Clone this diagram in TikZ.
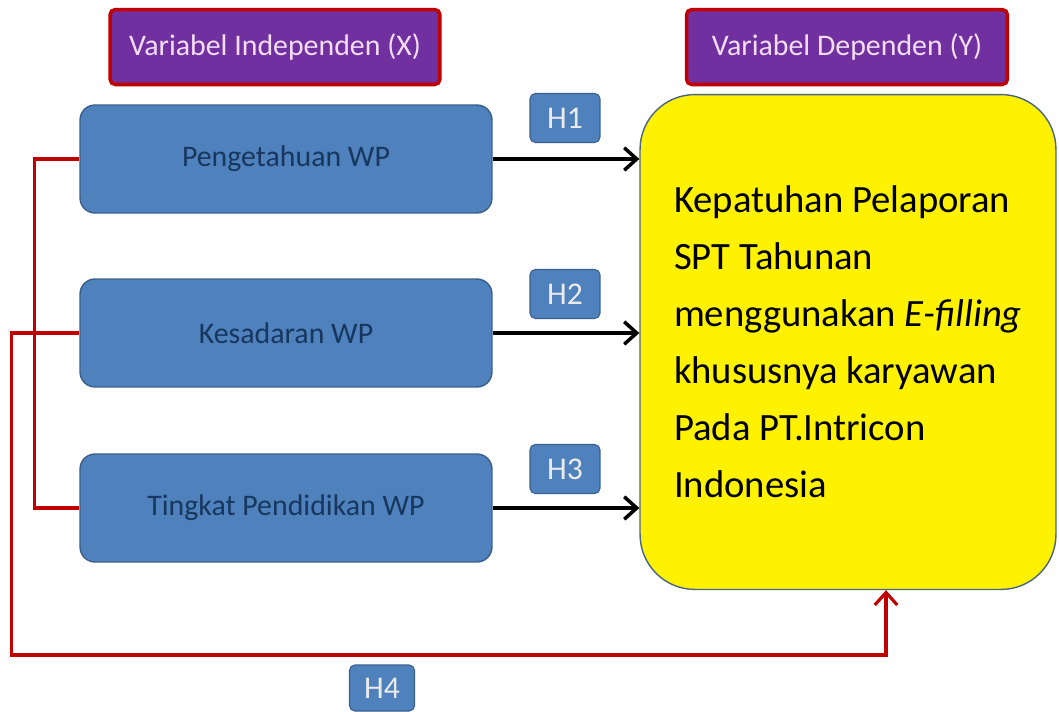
\documentclass[tikz,border=0pt]{standalone}
\usepackage{fontspec}
\setmainfont{Carlito}
\usetikzlibrary{arrows.meta}
\definecolor{boxblue}{HTML}{4F81BD}
\definecolor{boxedge}{HTML}{3A5F8C}
\definecolor{navy}{HTML}{17375E}
\definecolor{hdrpurple}{HTML}{7030A0}
\definecolor{hdrred}{HTML}{C00000}
\definecolor{hdrtext}{HTML}{F4DDF4}
\definecolor{yellowedge}{HTML}{4A6680}
\begin{document}
\begin{tikzpicture}[x=0.02cm,y=-0.02cm,
  header/.style={draw=hdrred, line width=2pt, fill=hdrpurple, rounded corners=3pt, text=hdrtext, minimum height=1.5cm, font=\fontsize{17}{20}\selectfont},
  varbox/.style={draw=boxedge, line width=0.8pt, fill=boxblue, rounded corners=0.3cm, text=navy, minimum width=8.24cm, minimum height=2.16cm, font=\fontsize{17}{20}\selectfont},
  hyp/.style={draw=boxedge, line width=0.6pt, fill=boxblue, rounded corners=3pt, text=white!92!black, minimum width=1.4cm, minimum height=0.98cm, font=\fontsize{18}{20}\selectfont},
  link/.style={line width=2pt, -{Straight Barb[length=2.5mm,width=4.5mm]}},
  redlink/.style={draw=hdrred, line width=1.8pt}]
\useasboundingbox (0,0) rectangle (1059,711);
% headers
\node[header, minimum width=6.6cm] (hx) at (275,47) {Variabel Independen (X)};
\node[header, minimum width=6.42cm] (hy) at (847,47) {Variabel Dependen (Y)};
% independent variables
\node[varbox] (pw) at (286,159) {Pengetahuan WP};
\node[varbox] (ks) at (286,333) {Kesadaran WP};
\node[varbox] (tp) at (286,508) {Tingkat Pendidikan WP};
% dependent variable
\node[draw=yellowedge, line width=0.8pt, fill=yellow, rounded corners=1.1cm,
  minimum width=8.32cm, minimum height=9.9cm, align=left,
  font=\fontsize{22}{32.4}\selectfont] (kp) at (848,342)
  {Kepatuhan Pelaporan\\SPT Tahunan\\menggunakan \textit{E-filling}\\khususnya karyawan\\Pada PT.Intricon\\Indonesia};
% hypotheses
\node[hyp] (h1) at (565,118) {H1};
\node[hyp] (h2) at (565,294) {H2};
\node[hyp] (h3) at (565,469) {H3};
\node[hyp, minimum width=1.3cm, minimum height=0.92cm] (h4) at (382,688) {H4};
\draw[link] (pw.east) -- (pw.east -| kp.west);
\draw[link] (ks.east) -- (ks.east -| kp.west);
\draw[link] (tp.east) -- (tp.east -| kp.west);
% red links
\draw[redlink] (pw.west) -- ++(-45,0) |- (tp.west);
\coordinate (h4turn) at (886,655);
\draw[redlink, -{Straight Barb[length=2.5mm,width=4.5mm]}] (ks.west) -- ++(-68,0) |- (h4turn) -- (h4turn |- kp.south);
\end{tikzpicture}
\end{document}
